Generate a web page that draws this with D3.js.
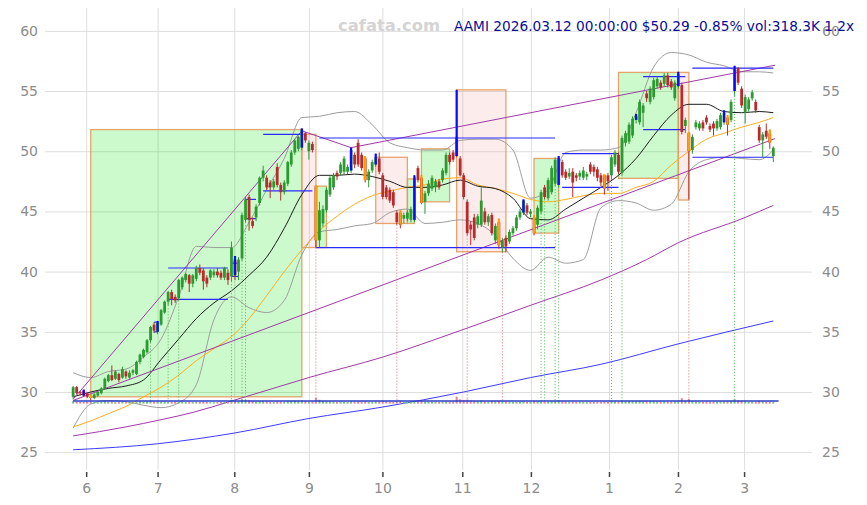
<!DOCTYPE html>
<html>
<head>
<meta charset="utf-8">
<script src="https://cdnjs.cloudflare.com/ajax/libs/d3/7.8.5/d3.min.js"></script>
<style>
  body { margin: 0; background: #fff; }
  svg { display: block; }
</style>
</head>
<body>
<div id="chart"></div>
<script>
// ---- daily candles (27 May 2025 .. 12 Mar 2026), one value per trading day ----
var opens = [
  29.6,30.4,30.0,30.1,29.9,29.6,29.5,29.7,29.9,30.3, 30.9,31.4,31.1,31.5,31.2,31.7,31.2,31.6,31.5,32.5,
  32.9,33.3,34.3,35.6,35.0,35.6,36.6,37.5,38.3,37.9, 37.8,38.7,39.3,39.7,39.0,39.4,40.3,40.1,39.5,39.5,
  39.7,40.0,39.9,39.5,39.9,39.6,41.0,40.0,41.1,44.3, 46.2,44.2,44.5,45.7,47.8,47.8,47.4,47.0,48.7,47.2,
  46.6,47.3,48.9,49.9,50.2,50.3,51.5,50.0,50.6,47.1, 42.6,44.0,45.1,46.4,47.0,48.2,48.2,48.3,48.3,48.4,
  49.7,50.7,49.7,49.4,47.6,48.4,48.9,49.4,48.0,47.0, 46.8,46.6,44.9,44.9,44.4,44.4,44.3,44.3,48.6,47.8,
  45.8,46.5,46.9,47.0,47.5,47.6,48.2,49.7,49.9,51.2, 49.4,48.0,45.8,43.9,44.5,43.9,43.9,45.0,44.1,44.7,
  42.6,44.1,42.0,42.8,42.5,43.2,43.6,44.5,44.9,45.5, 44.8,44.5,43.9,45.0,47.0,46.1,46.6,47.3,47.2,49.1,
  48.3,47.9,48.3,48.0,47.9,47.8,47.9,48.9,48.7,48.5, 48.0,48.0,48.0,48.0,48.9,49.7,48.2,50.7,50.8,51.3,
  52.6,52.4,53.2,54.8,54.1,54.5,55.4,55.7,55.6,56.3, 55.8,54.4,55.4,55.5,52.1,51.5,50.1,52.0,51.9,52.4,
  52.8,52.1,52.3,51.9,52.0,52.4,52.8,52.6,55.0,56.9, 55.2,53.2,53.5,54.4,54.1,52.0,50.9,51.7,51.5,49.6
];
var highs = [
  30.5,30.5,30.1,30.2,30.0,29.8,29.9,30.1,30.4,31.2, 31.5,32.2,31.8,31.6,32.1,31.8,31.8,31.9,32.6,33.2,
  33.6,34.4,35.5,35.8,35.9,36.9,37.6,38.4,38.5,38.1, 39.4,39.6,39.9,39.8,39.8,40.5,40.6,40.3,39.7,40.2,
  40.2,40.3,40.1,40.4,40.2,42.5,41.3,41.2,44.9,46.2, 46.4,44.5,45.6,47.9,48.8,48.0,47.6,47.7,49.0,47.4,
  47.6,49.2,50.1,51.0,51.3,51.9,51.6,50.9,50.8,47.2, 45.8,45.5,47.0,48.0,48.2,48.4,49.1,49.6,48.9,50.3,
  49.9,51.0,49.9,49.6,48.5,49.3,49.8,49.9,48.2,47.2, 47.0,46.8,45.1,45.1,44.9,45.1,45.4,48.0,48.8,48.0,
  46.7,47.6,48.0,47.7,47.7,48.6,49.9,49.9,50.1,55.1, 49.6,48.2,46.0,44.2,44.8,44.8,47.0,45.3,44.8,44.9,
  44.0,44.4,42.8,43.0,43.5,43.8,44.7,45.2,46.0,45.7, 45.2,44.7,45.5,46.8,47.2,47.8,48.8,49.5,49.6,49.3,
  48.5,48.6,48.6,48.2,48.4,48.7,48.3,49.1,48.9,48.7, 48.2,48.1,48.2,49.7,50.1,49.9,51.3,51.7,52.4,52.9,
  53.1,54.3,54.0,55.0,55.4,56.1,56.2,55.9,56.5,56.5, 56.0,55.9,56.6,55.7,52.8,51.6,51.4,52.6,52.5,52.6,
  53.0,52.3,52.5,52.7,53.2,53.4,53.0,54.3,57.1,57.0, 55.4,54.7,54.5,55.1,54.3,52.2,51.6,52.3,51.8,50.4
];
var lows = [
  29.4,29.8,29.7,29.6,29.5,29.3,29.4,29.6,29.8,30.2, 30.8,30.9,31.0,30.8,31.1,31.1,31.1,31.4,31.4,32.3,
  32.8,33.2,34.1,34.9,34.8,35.5,36.5,37.2,37.2,37.4, 37.6,38.5,39.1,38.3,38.7,39.2,39.7,38.5,38.7,39.3,
  39.5,39.5,39.3,39.3,38.9,39.2,39.3,39.3,40.9,44.1, 43.4,43.6,44.2,45.5,47.5,46.8,46.1,46.8,47.0,45.9,
  46.4,47.1,48.7,49.7,50.0,50.1,50.7,49.3,49.9,42.0, 42.0,43.7,44.9,46.2,46.8,47.6,48.0,48.1,48.1,48.2,
  48.6,48.7,48.4,47.4,47.0,48.2,48.7,48.1,46.0,46.0, 45.7,45.3,43.9,43.6,44.0,44.2,44.1,44.1,47.4,45.6,
  44.8,46.3,46.7,46.6,46.8,47.4,48.0,48.9,49.1,49.5, 47.9,46.0,43.0,42.2,42.6,43.6,43.7,43.9,43.8,43.0,
  42.3,41.9,41.6,41.6,42.3,43.0,43.4,44.3,44.7,44.7, 44.5,43.0,43.5,44.8,46.0,45.9,46.4,47.1,47.0,47.8,
  47.6,47.7,46.2,47.5,47.6,47.6,47.6,48.1,47.9,47.5, 47.1,46.4,46.7,47.7,48.7,48.1,48.0,50.4,50.6,51.1,
  52.3,52.2,52.0,54.1,53.9,54.3,55.2,55.1,55.4,55.3, 55.1,54.2,55.2,51.4,51.5,46.0,49.8,51.8,51.7,51.7,
  52.2,51.6,51.3,51.7,51.8,52.2,51.3,52.4,54.6,55.5, 53.6,52.3,53.3,54.2,53.2,50.7,49.5,51.0,50.2,49.1
];
var closes = [
  30.4,29.9,29.9,29.7,29.6,29.5,29.8,30.0,30.3,31.1, 31.4,31.0,31.7,31.0,31.9,31.3,31.6,31.8,32.5,33.1,
  33.5,34.3,35.4,35.1,35.8,36.8,37.5,38.3,37.7,37.6, 39.3,39.5,39.8,39.0,39.7,40.3,39.9,39.2,39.0,40.1,
  40.0,39.7,39.5,40.3,39.3,42.0,39.7,41.0,44.7,46.0, 44.3,43.8,45.4,47.8,48.4,47.0,47.0,47.5,47.2,46.6,
  47.4,49.1,49.9,50.9,51.2,51.8,50.9,50.7,50.1,42.6, 45.1,45.2,46.8,47.8,48.0,47.9,48.9,49.4,48.7,50.1,
  48.9,48.9,48.6,47.6,48.3,49.1,49.5,48.3,46.2,46.2, 45.9,45.5,44.1,43.9,44.7,44.9,45.2,47.8,47.6,45.7,
  46.5,47.3,47.8,47.5,47.0,48.4,49.7,49.1,49.3,49.6, 48.0,46.2,43.2,43.5,42.8,44.6,45.9,44.1,44.6,43.2,
  43.8,42.2,42.6,42.1,43.3,43.6,44.5,45.0,45.9,44.9, 45.0,43.2,45.3,46.6,46.2,47.6,48.6,49.3,49.4,48.0,
  47.8,48.2,47.4,47.8,48.2,48.4,48.1,48.3,48.3,47.8, 47.4,46.9,47.5,49.5,49.9,48.3,51.1,51.5,52.2,52.7,
  52.9,54.1,53.8,54.4,55.2,55.9,56.0,55.3,56.3,55.5, 55.3,55.7,56.4,51.6,52.6,50.0,51.2,52.4,52.3,51.9,
  52.4,51.8,51.9,52.5,53.0,53.2,52.2,54.1,56.8,55.7, 53.8,54.5,54.3,54.9,53.4,50.9,51.4,51.2,50.72,50.29
];
// volume in thousands
var volumes = [
  420,310,280,260,300,350,240,230,260,380, 300,330,250,270,290,240,260,220,310,360,
  380,420,450,330,390,340,360,310,290,330, 300,280,260,300,250,280,270,310,260,240,
  230,250,270,260,300,620,480,390,720,650, 540,420,380,460,410,380,330,300,360,340,
  320,410,450,480,430,520,390,340,360,980, 640,430,390,370,350,300,330,310,280,420,
  360,400,330,380,300,290,360,340,450,380, 350,330,420,460,300,280,310,520,380,400,
  330,300,290,280,270,310,360,330,340,1150, 720,560,680,490,430,380,520,390,330,420,
  390,460,420,380,320,300,330,340,410,300, 280,430,400,370,330,360,390,420,450,340,
  300,280,330,290,260,270,250,300,280,290, 310,380,320,420,360,340,520,410,430,400,
  440,460,380,350,410,390,330,340,360,310, 300,380,470,890,460,760,420,360,330,310,
  300,290,310,300,330,380,400,450,720,480, 430,380,340,320,330,460,400,350,370,318.3
];

// signal candles
var blueSignals = [3,24,46,65,79,86,97,109,128,138,160,172,185,188];
var orangeSignals = [5,69,83,93,99,121,131,151,175,186,198];
var greenDrops = [22,27,30,45,48,49,133,134,137,138,153,156,188];
var redDrops = [69,92,112,122,175];

// zones: start day, end day, top, bottom, kind
var zoneStart = [5, 65, 69, 86, 95, 99, 109, 131, 155, 172];
var zoneEnd   = [65, 69, 72, 95, 97, 107, 123, 138, 172, 175];
var zoneTop   = [51.8, 51.4, 47.1, 49.5, 47.7, 50.2, 55.1, 49.4, 56.55, 56.55];
var zoneBot   = [29.6, 42.0, 42.0, 44.0, 44.0, 45.8, 41.65, 43.2, 47.75, 45.95];
var zoneKind  = ["up","down","up","down","up","up","down","up","up","down"];

// support / resistance levels: price, from day, to day
var levelPrice = [40.3, 37.7, 35.8, 35.0, 40.7, 39.6, 46.0, 44.4, 51.4, 46.7, 51.1, 42.0, 49.8, 47.0, 56.2, 51.8, 56.9, 49.5];
var levelFrom  = [27, 27, 23, 23, 45, 45, 49, 49, 54, 54, 70, 69, 139, 139, 162, 162, 176, 176];
var levelTo    = [44, 44, 24, 24, 47, 47, 52, 52, 65, 68, 137, 137, 155, 155, 174, 174, 199, 199];

// trend lines (day, price)
var upperTrendDay = [0, 65, 79, 199.5];
var upperTrendVal = [29.4, 51.7, 50.3, 57.15];
var lowerTrendDay = [0, 199.5];
var lowerTrendVal = [29.3, 51.05];

// indicator lines sampled every 5 days (last point day 199)
var sampleDays = d3.range(0, 200, 5).concat([199]);
var sma20 = [29.6,30.0,30.3,30.5,31.0,32.7,34.4,36.1,37.4,38.4, 39.7,41.2,43.6,46.4,48.0,48.0,48.1,47.9,47.5,47.0,
             47.0,47.2,47.6,47.1,46.9,46.1,44.4,44.3,45.2,46.1, 47.0,48.0,49.4,51.3,53.0,53.9,53.9,53.3,53.2,53.3,53.2];
var sma50 = [27.1,27.6,28.2,28.8,29.6,30.4,31.4,32.6,33.6,34.6, 36.1,38.0,40.0,41.8,43.4,44.6,45.6,46.3,46.7,47.0,
             47.2,47.7,47.8,47.2,46.9,46.5,46.0,45.8,46.0,46.3, 46.5,46.5,47.0,47.5,48.85,50.0,51.0,51.5,52.0,52.4,52.8];
var bandUpper = [31.6,31.2,31.7,31.9,32.9,34.4,37.9,42.1,42.0,42.0, 44.1,46.8,49.4,52.8,52.9,53.2,53.3,52.2,50.7,50.3,
                 50.1,50.1,50.9,51.0,51.0,50.1,46.1,46.8,49.9,50.1, 50.1,50.3,53.2,57.0,58.2,58.0,57.4,57.1,56.6,56.6,56.5];
var bandLower = [27.0,29.0,29.3,29.2,28.9,28.7,29.1,30.6,36.0,37.9, 37.0,36.6,37.6,41.4,43.3,43.5,43.8,44.0,44.9,45.2,
                 44.0,44.1,44.3,44.0,43.0,41.1,40.1,41.2,40.7,41.0, 45.3,45.9,45.7,45.1,45.6,48.3,49.3,49.5,49.4,49.3,50.1];

// long moving averages
var longDays = [0, 15, 25, 34, 45, 58, 67, 88, 110, 130, 150, 163, 172, 191, 199];
var longPurple = [26.35, 27.1, 27.7, 28.3, 29.25, 30.4, 31.2, 32.9, 35.1, 37.2, 39.3, 41.0, 42.4, 44.5, 45.5];
var slowDays = [0, 24, 46, 67, 88, 111, 130, 150, 172, 199];
var slowBlue = [25.2, 25.7, 26.6, 27.8, 28.75, 30.0, 31.2, 32.3, 34.0, 35.9];

// axes
var monthPos = [3.7, 24, 45.8, 67, 87.9, 110.6, 130.1, 152.3, 171.9, 190.7];
var monthLabels = ["6", "7", "8", "9", "10", "11", "12", "1", "2", "3"];
var priceTicks = [25, 30, 35, 40, 45, 50, 55, 60];
var baselinePrice = 29.25;

var width = 867, height = 505;
var plotLeft = 45, plotRight = 812, plotTop = 8, plotBottom = 470;

var svg = d3.select("#chart").append("svg")
    .attr("width", width)
    .attr("height", height)
    .style("font-family", "'DejaVu Sans', sans-serif");

var x = d3.scaleLinear().domain([-8, 210]).range([plotLeft, plotRight]);
var y = d3.scaleLinear().domain([23.52, 61.9]).range([plotBottom, plotTop]);
var volY = d3.scaleLinear().domain([0, 1000]).range([403.6, 397.6]);

// grid
svg.append("g")
    .attr("transform", "translate(" + plotLeft + ",0)")
    .call(d3.axisRight(y).tickValues(priceTicks).tickSize(plotRight - plotLeft).tickFormat(""))
    .call(function (g) { g.select(".domain").remove(); })
    .selectAll("line").attr("stroke", "#dedede");

svg.append("g")
    .attr("transform", "translate(0," + plotBottom + ")")
    .call(d3.axisBottom(x).tickValues(monthPos).tickSize(-(plotBottom - plotTop)).tickFormat(""))
    .call(function (g) { g.select(".domain").remove(); })
    .selectAll("line").attr("stroke", "#dedede");

// axis labels
function styleAxis(g) {
    g.select(".domain").remove();
    g.selectAll("text")
        .attr("fill", "#8c8c8c")
        .style("font-family", "'DejaVu Sans', sans-serif")
        .style("font-size", "14px");
}
svg.append("g")
    .attr("transform", "translate(" + plotLeft + ",0)")
    .call(d3.axisLeft(y).tickValues(priceTicks).tickSize(0).tickPadding(7))
    .call(styleAxis);
svg.append("g")
    .attr("transform", "translate(" + plotRight + ",0)")
    .call(d3.axisRight(y).tickValues(priceTicks).tickSize(0).tickPadding(10))
    .call(styleAxis);
svg.append("g")
    .attr("transform", "translate(0," + (plotBottom + 2) + ")")
    .call(d3.axisBottom(x).tickValues(monthPos).tickSize(5).tickPadding(6)
        .tickFormat(function (d, i) { return monthLabels[i]; }))
    .call(styleAxis)
    .selectAll("line").attr("stroke", "#444").attr("stroke-width", 1.5);

// zones
var zones = d3.range(zoneStart.length).map(function (k) {
    return {a: zoneStart[k], b: zoneEnd[k], t: zoneTop[k], lo: zoneBot[k], kind: zoneKind[k]};
});
svg.append("g").selectAll("rect")
    .data(zones)
    .enter().append("rect")
    .attr("x", function (d) { return x(d.a); })
    .attr("width", function (d) { return x(d.b) - x(d.a); })
    .attr("y", function (d) { return y(d.t); })
    .attr("height", function (d) { return y(d.lo) - y(d.t); })
    .attr("fill", function (d) { return d.kind === "up" ? "rgba(0,230,0,0.2)" : "rgba(240,128,128,0.15)"; })
    .attr("stroke", "#e49a5c")
    .attr("stroke-opacity", 0.9)
    .attr("stroke-width", 1.3);

// lines
function sampled(days, vals) { return d3.zip(days, vals); }
var smooth = d3.line()
    .x(function (d) { return x(d[0]); })
    .y(function (d) { return y(d[1]); })
    .curve(d3.curveMonotoneX);
var straight = d3.line()
    .x(function (d) { return x(d[0]); })
    .y(function (d) { return y(d[1]); });

var lineDefs = [
    {pts: sampled(longDays, longPurple), color: "#a03aa6", gen: smooth},
    {pts: sampled(slowDays, slowBlue), color: "#3c3cff", gen: smooth},
    {pts: sampled(sampleDays, bandUpper), color: "#9d9d9d", gen: smooth},
    {pts: sampled(sampleDays, bandLower), color: "#9d9d9d", gen: smooth},
    {pts: sampled(sampleDays, sma50), color: "#ffad1f", gen: smooth},
    {pts: sampled(sampleDays, sma20), color: "#1c1c1c", gen: smooth},
    {pts: sampled(upperTrendDay, upperTrendVal), color: "#a03aa6", gen: straight},
    {pts: sampled(lowerTrendDay, lowerTrendVal), color: "#a03aa6", gen: straight}
];
svg.append("g").selectAll("path")
    .data(lineDefs)
    .enter().append("path")
    .attr("d", function (d) { return d.gen(d.pts); })
    .attr("fill", "none")
    .attr("stroke", function (d) { return d.color; })
    .attr("stroke-width", 1);

// support / resistance
svg.append("g").selectAll("line")
    .data(d3.range(levelPrice.length))
    .enter().append("line")
    .attr("x1", function (k) { return x(levelFrom[k]); })
    .attr("x2", function (k) { return x(levelTo[k]); })
    .attr("y1", function (k) { return y(levelPrice[k]); })
    .attr("y2", function (k) { return y(levelPrice[k]); })
    .attr("stroke", "#2a2aff")
    .attr("stroke-width", 1.2);

// drop lines from signal lows
var drops = greenDrops.map(function (i) { return {i: i, c: "#55b455"}; })
    .concat(redDrops.map(function (i) { return {i: i, c: "#e06a6a"}; }));
svg.append("g").selectAll("line")
    .data(drops)
    .enter().append("line")
    .attr("x1", function (d) { return x(d.i); })
    .attr("x2", function (d) { return x(d.i); })
    .attr("y1", function (d) { return y(lows[d.i]); })
    .attr("y2", y(baselinePrice))
    .attr("stroke", function (d) { return d.c; })
    .attr("stroke-width", 1)
    .attr("stroke-dasharray", "1,2");

// candles
var candles = d3.range(closes.length).map(function (i) {
    return {i: i, o: opens[i], h: highs[i], l: lows[i], c: closes[i], v: volumes[i]};
});
var up = "#2b9a30", down = "#b82a2c";
var cg = svg.append("g").selectAll("g")
    .data(candles)
    .enter().append("g");
cg.append("line")
    .attr("x1", function (d) { return x(d.i); })
    .attr("x2", function (d) { return x(d.i); })
    .attr("y1", function (d) { return y(d.h); })
    .attr("y2", function (d) { return y(d.l); })
    .attr("stroke", function (d) { return d.c >= d.o ? up : down; })
    .attr("stroke-width", 1);
cg.append("rect")
    .attr("x", function (d) { return x(d.i) - 1.4; })
    .attr("width", 2.8)
    .attr("y", function (d) { return y(Math.max(d.o, d.c)); })
    .attr("height", function (d) { return Math.max(0.8, Math.abs(y(d.o) - y(d.c))); })
    .attr("fill", function (d) { return d.c >= d.o ? up : down; });

// signal highlights
var sig = blueSignals.map(function (i) { return {i: i, c: "#0a0aff"}; })
    .concat(orangeSignals.map(function (i) { return {i: i, c: "#ffa000"}; }));
svg.append("g").selectAll("line")
    .data(sig)
    .enter().append("line")
    .attr("x1", function (d) { return x(d.i); })
    .attr("x2", function (d) { return x(d.i); })
    .attr("y1", function (d) { return y(highs[d.i]); })
    .attr("y2", function (d) { return y(Math.min(opens[d.i], closes[d.i])); })
    .attr("stroke", function (d) { return d.c; })
    .attr("stroke-width", 2.2);

// volume
svg.append("g").selectAll("rect")
    .data(candles)
    .enter().append("rect")
    .attr("x", function (d) { return x(d.i) - 1; })
    .attr("width", 2)
    .attr("y", function (d) { return volY(d.v); })
    .attr("height", function (d) { return volY(0) - volY(d.v); })
    .attr("fill", function (d) { return d.c >= d.o ? "#74bf7a" : "#df8296"; });

svg.append("line")
    .attr("x1", x(0))
    .attr("x2", x(200.5))
    .attr("y1", y(baselinePrice))
    .attr("y2", y(baselinePrice))
    .attr("stroke", "#2a3cc8")
    .attr("stroke-width", 1.6);

// header
svg.append("text")
    .attr("x", 338).attr("y", 31)
    .attr("fill", "#d4d4d4")
    .style("font-size", "16.4px")
    .style("font-weight", "bold")
    .text("cafata.com");
svg.append("text")
    .attr("x", 454).attr("y", 31)
    .attr("fill", "#0c0c96")
    .style("font-size", "13.7px")
    .text("AAMI 2026.03.12 00:00:00 $50.29 -0.85% vol:318.3K 1.2x");
</script>
</body>
</html>
